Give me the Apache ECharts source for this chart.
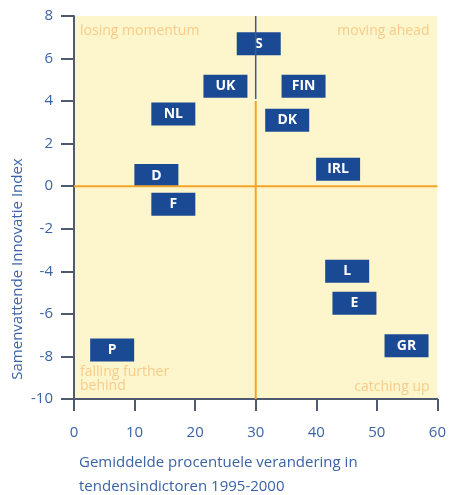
<!DOCTYPE html>
<html>
<head>
<meta charset="utf-8">
<script src="https://cdn.jsdelivr.net/npm/echarts@6/dist/echarts.min.js"></script>
<style>
html, body { margin: 0; padding: 0; background: #fff; }
#chart { width: 449px; height: 495px; }
</style>
</head>
<body>
<div id="chart"></div>
<script>
// landen en posities (x = verandering %, y = index)
var countries = ['S', 'UK', 'FIN', 'NL', 'DK', 'D', 'IRL', 'F', 'L', 'E', 'GR', 'P'];
var changes = [30.5, 25.0, 37.9, 16.4, 35.2, 13.6, 43.6, 16.4, 45.1, 46.3, 54.9, 6.3];
var indexes = [6.7, 4.7, 4.7, 3.4, 3.1, 0.5, 0.8, -0.85, -4.0, -5.5, -7.5, -7.7];
var xTicks = [0, 10, 20, 30, 40, 50, 60];
var yTicks = [-10, -8, -6, -4, -2, 0, 2, 4, 6, 8];

var quadrantNames = ['losing momentum', 'moving ahead', 'falling further\nbehind', 'catching up'];
var quadrantPos = [[1, 7.3], [58.7, 7.3], [1, -9.05], [58.7, -9.45]];

var blue = '#3a63a6';
var orange = '#f5a52c';

var chart = echarts.init(document.getElementById('chart'));

var points = countries.map(function (c, i) {
    return { name: c, value: [changes[i], indexes[i]] };
});
var quadrants = quadrantNames.map(function (q, i) {
    return {
        name: q,
        value: quadrantPos[i],
        label: { position: i % 2 === 0 ? 'right' : 'left' }
    };
});

var option = {
    animation: false,
    grid: {
        left: 74, right: 10, top: 16, bottom: 96,
        show: true,
        backgroundColor: '#fdf5cb',
        borderWidth: 0
    },
    xAxis: {
        type: 'value',
        min: xTicks[0], max: xTicks[xTicks.length - 1], interval: 10,
        splitLine: { show: false },
        axisLine: { onZero: false, lineStyle: { color: '#4e5b6e', width: 2 } },
        axisTick: { length: 12, lineStyle: { color: '#4e5b6e', width: 2 } },
        axisLabel: { color: blue, fontSize: 15, margin: 26, fontFamily: 'Open Sans' }
    },
    yAxis: {
        type: 'value',
        min: yTicks[0], max: yTicks[yTicks.length - 1], interval: 2,
        splitLine: { show: false },
        axisLine: { show: true, onZero: false, lineStyle: { color: '#4e5b6e', width: 2 } },
        axisTick: { show: true, length: 13, lineStyle: { color: '#4e5b6e', width: 2 } },
        axisLabel: { color: blue, fontSize: 15, margin: 21, fontFamily: 'Open Sans' }
    },
    graphic: [
        {
            type: 'text', x: 18, y: 269, rotation: Math.PI / 2,
            style: {
                text: 'Samenvattende Innovatie Index',
                fill: blue, font: '15px "Open Sans"',
                align: 'center', verticalAlign: 'middle'
            }
        },
        {
            type: 'text', left: 79, top: 451,
            style: {
                text: 'Gemiddelde procentuele verandering in\ntendensindictoren 1995-2000',
                fill: blue, font: '15px "Open Sans"', lineHeight: 24
            }
        }
    ],
    series: [
        {
            type: 'line', symbol: 'none', silent: true,
            data: [[0, 0], [60, 0]],
            lineStyle: { color: orange, width: 2 }
        },
        {
            type: 'line', symbol: 'none', silent: true,
            data: [[30, 4], [30, -10]],
            lineStyle: { color: orange, width: 2 }
        },
        {
            type: 'line', symbol: 'none', silent: true,
            data: [[30, 8], [30, 4.1]],
            lineStyle: { color: '#3b5b8c', width: 1.5 }
        },
        {
            type: 'scatter', silent: true,
            symbolSize: 0,
            data: quadrants,
            label: {
                show: true, formatter: '{b}', distance: 0,
                color: '#f8c27a', fontSize: 14, fontFamily: 'Open Sans', lineHeight: 14
            }
        },
        {
            type: 'scatter',
            symbol: 'rect',
            symbolSize: [44, 23],
            data: points,
            itemStyle: { color: '#1b4a95', opacity: 1 },
            label: {
                show: true, position: 'inside', formatter: '{b}',
                color: '#fff', fontWeight: 'bold', fontSize: 14, fontFamily: 'Open Sans'
            }
        }
    ]
};

chart.setOption(option);
</script>
</body>
</html>
